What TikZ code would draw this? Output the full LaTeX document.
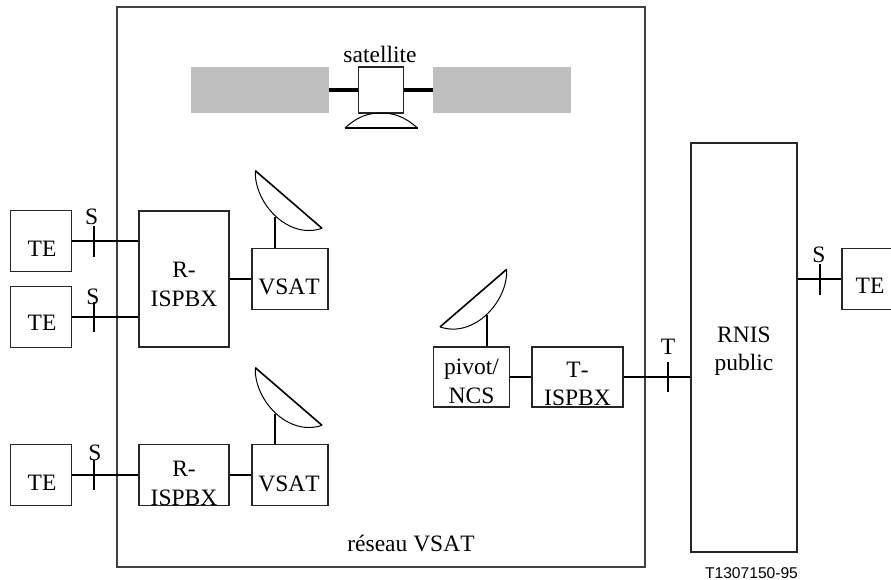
\documentclass[tikz,border=0pt]{standalone}
\usepackage{fontspec}
\setmainfont[Kerning=Off]{Liberation Serif}
\newfontfamily\refsans{Liberation Sans}
\begin{document}
\begin{tikzpicture}[
x=1pt,y=-1pt,
box/.style={rectangle, draw=black!85, line width=1.2pt, fill=white, inner sep=0pt},
txt/.style={inner sep=0pt, align=center, font=\fontsize{23.5}{28.5}\selectfont},
wire/.style={draw=black, line width=2pt},
frame/.style={rectangle, draw=black!75, line width=1.5pt, inner sep=0pt},
panel/.style={rectangle, fill=black!25, inner sep=0pt, minimum width=138pt, minimum height=46pt},
dish/.pic={
\draw[black, line width=1pt, fill=white] (0,0) .. controls (-1.3,32.3) and (32.7,69.3) .. (66.7,57.6);
\draw[black, line width=1.6pt] (0,0) -- (66.7,57.6);
\coordinate (-foot) at (19.7,46);
},
]
\useasboundingbox (0,0) rectangle (891,580);

% reseau and public network
\node[frame, minimum width=528pt, minimum height=560pt] (net) at (381,287) {};
\node[box, minimum width=106pt, minimum height=409pt] (rnis) at (744,347.5) {};

% satellite
\node[panel] (wingl) at (260,90) {};
\node[panel] (wingr) at (502,90) {};
\node[box, minimum width=45.5pt, minimum height=46pt] (sat) at (381,90) {};
\draw[black, line width=4pt] (wingl.east) -- (sat.west);
\draw[black, line width=4pt] (sat.east) -- (wingr.west);
\coordinate (sata) at (345,128);
\coordinate (satb) at (417.5,128);
\draw[black, line width=1pt] (sata) .. controls (358,116) and (369,113) .. (381,113) .. controls (393,113) and (404,116) .. (satb);
\draw[black, line width=1.8pt] (sata) -- (satb);

% boxes
\node[box, minimum width=61pt, minimum height=61pt] (te1) at (41,241) {};
\node[box, minimum width=61pt, minimum height=61pt] (te2) at (41,317) {};
\node[box, minimum width=61pt, minimum height=61pt] (te3) at (41,475) {};
\node[box, minimum width=61pt, minimum height=61pt] (te4) at (872.5,279) {};
\node[box, minimum width=90pt, minimum height=136pt] (r1) at (184,279) {};
\node[box, minimum width=90pt, minimum height=61pt] (r2) at (184,475) {};
\node[box, minimum width=76pt, minimum height=61pt] (v1) at (290,279) {};
\node[box, minimum width=76pt, minimum height=61pt] (v2) at (290,475) {};
\node[box, minimum width=76pt, minimum height=60pt] (piv) at (471.5,377) {};
\node[box, minimum width=91pt, minimum height=60pt] (tx) at (577.5,377) {};

% dishes
\pic (d1) at (255.3,170.7) {dish};
\pic (d2) at (255.3,367.7) {dish};
\pic[xscale=-1] (d3) at (506.7,269.3) {dish};

\draw[wire] (d1-foot) -- (d1-foot |- v1.north);
\draw[wire] (d2-foot) -- (d2-foot |- v2.north);
\draw[wire] (d3-foot) -- (d3-foot |- piv.north);

% links
\draw[wire] (te1.east) -- (te1.east -| r1.west);
\draw[wire] (te2.east) -- (te2.east -| r1.west);
\draw[wire] (te3.east) -- (r2.west);
\draw[wire] (r1.east) -- (v1.west);
\draw[wire] (r2.east) -- (v2.west);
\draw[wire] (piv.east) -- (tx.west);
\draw[wire] (tx.east) -- (tx.east -| rnis.west);
\draw[wire] (te4.west -| rnis.east) -- (te4.west);

% ticks
\coordinate (k1a) at (94,226);
\coordinate (k1b) at (94,257);
\coordinate (k2a) at (94,302);
\coordinate (k2b) at (94,332);
\coordinate (k3a) at (94,460);
\coordinate (k3b) at (94,490);
\coordinate (k4a) at (820,264);
\coordinate (k4b) at (820,295);
\coordinate (k5a) at (668,362);
\coordinate (k5b) at (668,392);
\draw[wire] (k1a) -- (k1b);
\draw[wire] (k2a) -- (k2b);
\draw[wire] (k3a) -- (k3b);
\draw[wire] (k4a) -- (k4b);
\draw[wire] (k5a) -- (k5b);

% texts
\node[txt, anchor=base] (satl) at (380,62.7) {satellite};
\node[txt, anchor=base] (te1l) at (42,256) {TE};
\node[txt, anchor=base] (te2l) at (42,330.7) {TE};
\node[txt, anchor=base] (te3l) at (42,490) {TE};
\node[txt, anchor=base] (te4l) at (870,293.3) {TE};
\node[txt, anchor=base] (s1) at (91.7,224) {S};
\node[txt, anchor=base] (s2) at (93,304) {S};
\node[txt, anchor=base] (s3) at (95,460.7) {S};
\node[txt, anchor=base] (s4) at (819,262) {S};
\node[txt, anchor=base] (t1) at (668,354) {T};
\node[txt] (r1l) at (184,284.5) {R-\\ISPBX};
\node[txt] (r2l) at (184,483.5) {R-\\ISPBX};
\node[txt, anchor=base] (v1l) at (289,294.5) {VSAT};
\node[txt, anchor=base] (v2l) at (289,491) {VSAT};
\node[txt] (pivl) at (471.5,381.5) {pivot/\\NCS};
\node[txt] (txl) at (577.5,384) {T-\\ISPBX};
\node[txt] (rnisl) at (744,351) {RNIS\\public};
\node[txt, anchor=base] (netl) at (411,551.5) {réseau VSAT};
\node[inner sep=0pt, anchor=base, font=\refsans\fontsize{15.6}{18}\selectfont] (ref) at (751.5,578) {T1307150-95};
\end{tikzpicture}
\end{document}
